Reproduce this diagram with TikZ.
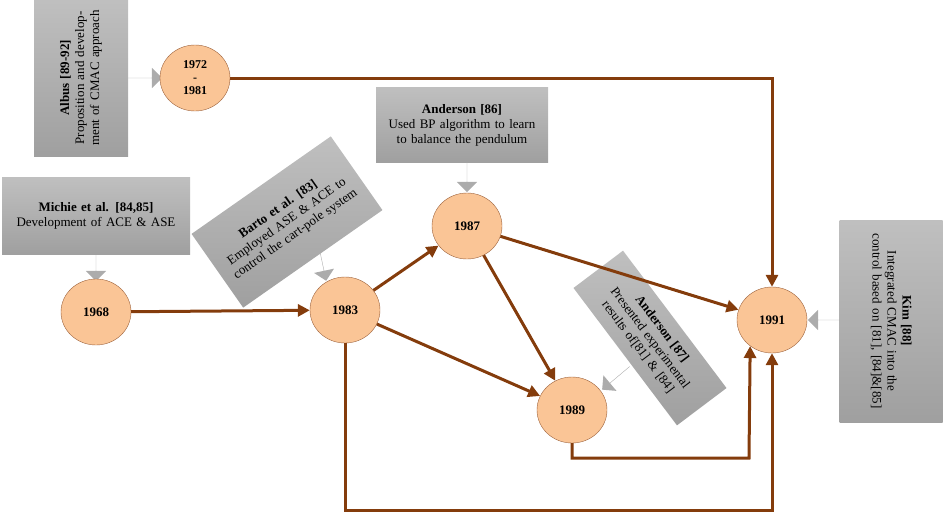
\documentclass[tikz,border=0pt]{standalone}
\usepackage{fontspec}
\setmainfont{Liberation Serif}
\usetikzlibrary{shapes.arrows,shapes.geometric,arrows.meta}
\definecolor{brn}{RGB}{132,60,12}
\definecolor{pch}{RGB}{250,197,150}
\tikzset{
 yr/.style={ellipse,draw=brn!80,fill=pch,minimum width=70,minimum height=66,inner sep=0,font=\fontsize{13}{15}\selectfont\bfseries},
 gbox/.style={top color=gray!50,bottom color=gray!75,draw=none,align=center,inner sep=3,font=\fontsize{13}{15}\selectfont},
 garr/.style={single arrow,fill=gray!65,draw=none,inner sep=0,minimum width=20,single arrow head extend=10,single arrow head indent=0},
 link/.style={draw=brn,line width=3,-{Triangle[length=12,width=12]}}
}
\begin{document}
\begin{tikzpicture}[x=1pt,y=-1pt]
\useasboundingbox (0,0) rectangle (945,515);
% boxes
\node[gbox,rotate=90,minimum width=157,minimum height=94,text width=150] (albus) at (81,78) {\textbf{Albus [89-92]}\\Proposition and development of CMAC approach};
\node[gbox,minimum width=188,minimum height=77,text width=180] (michie) at (96,216) {\textbf{Michie et al. [84,85]}\\Development of ACE \& ASE};
\node[gbox,minimum width=172,minimum height=75,text width=165] (and86) at (462,125) {\textbf{Anderson [86]}\\Used BP algorithm to learn to balance the pendulum};
\node[gbox,rotate=35,minimum width=170,minimum height=90,text width=150] (barto) at (287,222) {\textbf{Barto et al. [83]}\\Employed ASE \& ACE to control the cart-pole system};
\node[gbox,rotate=-53,minimum width=172,minimum height=62,text width=160] (and87) at (650,338) {\textbf{Anderson [87]}\\Presented experimental results of[81] \& [84]};
\node[gbox,rotate=-90,minimum width=202,minimum height=103,text width=180] (kim) at (891,321) {\textbf{Kim [88]}\\Integrated CMAC into the control based on [81], [84]\&[85]};
% block arrows
\node[garr,minimum height=34] (a1) at (145,78) {};
\node[garr,rotate=-90,minimum height=26] (a2) at (96,268) {};
\node[garr,rotate=-90,minimum height=30] (a3) at (467,177) {};
\node[garr,rotate=-78,minimum height=30] (a4) at (323,266) {};
\node[garr,rotate=-140,minimum height=36] (a5) at (616,378) {};
\node[garr,rotate=180,minimum height=32] (a6) at (824,320) {};
% years
\node[yr,align=center,font=\fontsize{12}{13}\selectfont\bfseries] (y72) at (195,78) {1972\\-\\1981};
\node[yr] (y68) at (96,312) {1968};
\node[yr] (y83) at (345,310) {1983};
\node[yr] (y87) at (467,226) {1987};
\node[yr] (y89) at (572,410) {1989};
\node[yr] (y91) at (772,320) {1991};
% connectors
\draw[link] (y72.east) -- (y72.east -| y91.north) -- (y91.north);
\draw[link] (y68) -- (y83);
\draw[link] (y83) -- (y87);
\draw[link] (y87) -- (y91);
\draw[link] (y87) -- (y89);
\draw[link] (y83) -- (y89);
\coordinate (c1) at (749,458);
\coordinate (c2) at (772,510);
\draw[link] (y89.south) |- (c1) -- (y91.-130);
\draw[link] (y83.south) |- (c2) -- (y91.south);
\end{tikzpicture}
\end{document}
